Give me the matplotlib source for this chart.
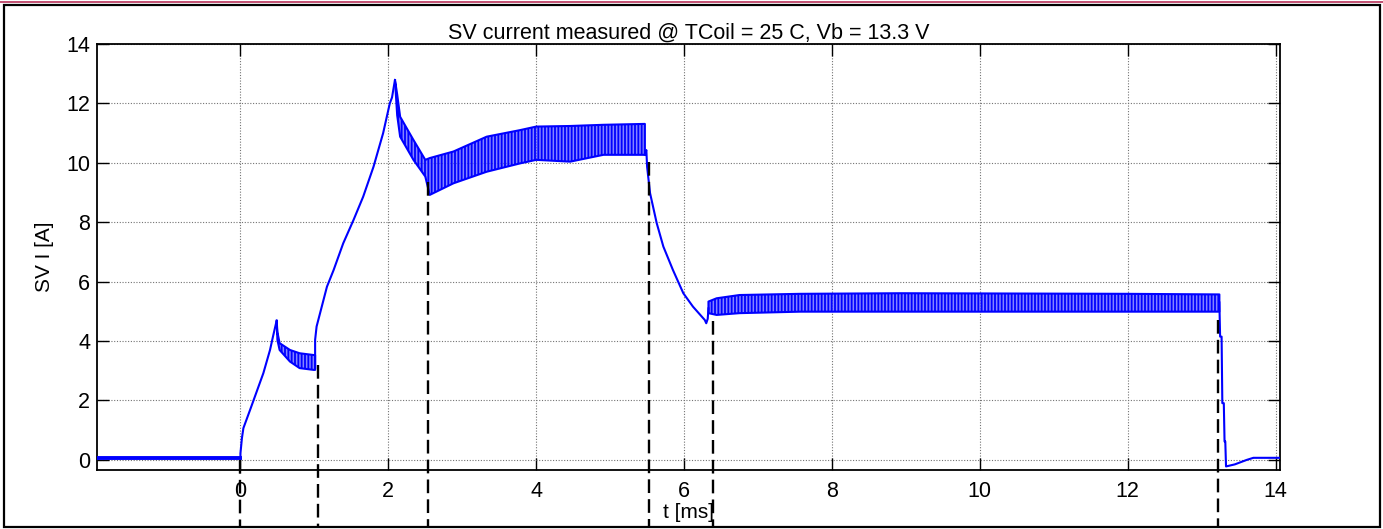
import numpy as np
import matplotlib
matplotlib.use("Agg")
import matplotlib.pyplot as plt
from matplotlib.patches import Rectangle
from matplotlib.lines import Line2D

plt.rcParams["font.family"] = ["Liberation Sans", "DejaVu Sans"]
plt.rcParams["hatch.linewidth"] = 1.3

# --- data (t in ms, current in A) ---
PRE_T = [-1.94, 0.0]
PRE_V = [0.07, 0.07]

RISE1_T = [0.0, 0.0, 0.02, 0.04, 0.13, 0.22, 0.31, 0.40, 0.44, 0.49]
RISE1_V = [0.07, 0.22, 0.73, 1.07, 1.68, 2.30, 2.92, 3.70, 4.15, 4.69]

RIPPLE1_T = [0.49, 0.50, 0.53, 0.67, 0.80, 0.99, 1.01]
RIPPLE1_HI = [4.69, 4.30, 3.93, 3.70, 3.59, 3.53, 3.53]
RIPPLE1_LO = [4.69, 4.04, 3.70, 3.31, 3.09, 3.03, 3.03]

RISE2_T = [1.01, 1.01, 1.03, 1.17, 1.26, 1.39, 1.53, 1.66, 1.80, 1.93, 2.02, 2.05, 2.09]
RISE2_V = [3.10, 4.04, 4.49, 5.83, 6.39, 7.29, 8.08, 8.86, 9.87, 11.0, 12.0, 12.2, 12.79]

RIPPLE2_T = [2.09, 2.12, 2.16, 2.34, 2.50, 2.56, 2.88, 3.33, 3.78, 4.00, 4.46, 4.91, 5.47]
RIPPLE2_HI = [12.79, 12.30, 11.55, 10.77, 10.10, 10.16, 10.38, 10.88, 11.10, 11.22, 11.24, 11.28, 11.31]
RIPPLE2_LO = [12.79, 11.60, 10.88, 10.10, 9.54, 8.92, 9.31, 9.70, 9.98, 10.10, 10.04, 10.27, 10.27]

FALL_T = [5.47, 5.49, 5.50, 5.54, 5.63, 5.72, 5.85, 5.99, 6.12, 6.28, 6.30, 6.32, 6.33]
FALL_V = [10.27, 10.43, 9.87, 8.98, 7.97, 7.18, 6.39, 5.61, 5.16, 4.71, 4.60, 4.75, 5.10]

RIPPLE3_T = [6.33, 6.44, 6.75, 7.57, 8.92, 10.50, 12.00, 13.24]
RIPPLE3_HI = [5.33, 5.44, 5.55, 5.59, 5.61, 5.60, 5.59, 5.57]
RIPPLE3_LO = [4.94, 4.88, 4.94, 4.99, 4.99, 4.99, 4.99, 4.99]

TAIL_T = [13.24, 13.25, 13.27, 13.28, 13.30, 13.31, 13.32, 13.33, 13.45, 13.61, 13.70, 14.06]
TAIL_V = [5.30, 4.15, 4.15, 1.91, 1.91, 0.62, 0.62, -0.22, -0.15, 0.0, 0.07, 0.07]

# phase markers (dashed), t and the current where they start
MARK_T = [0.0, 1.05, 2.54, 5.53, 6.39, 13.22]
MARK_V = [0.0, 3.20, 9.37, 10.04, 4.66, 4.70]

XTICKS = [0, 2, 4, 6, 8, 10, 12, 14]
YTICKS = [0, 2, 4, 6, 8, 10, 12, 14]

BLUE = "#0000ff"

fig = plt.figure(figsize=(13.83, 5.29), dpi=100)
ax = fig.add_axes([97 / 1383, 1 - 470 / 529, (1280 - 97) / 1383, (470 - 44) / 529])

# smooth parts of the trace
for t, v in [(RISE1_T, RISE1_V), (RISE2_T, RISE2_V),
             (FALL_T, FALL_V), (TAIL_T, TAIL_V)]:
    ax.plot(t, v, color=BLUE, lw=1.5, zorder=4)
ax.plot(PRE_T, PRE_V, color=BLUE, lw=2.8, zorder=4)

# chopping (PWM) parts drawn as a hatched band between the envelopes
for t, lo, hi in [(RIPPLE1_T, RIPPLE1_LO, RIPPLE1_HI),
                  (RIPPLE2_T, RIPPLE2_LO, RIPPLE2_HI),
                  (RIPPLE3_T, RIPPLE3_LO, RIPPLE3_HI)]:
    ax.fill_between(t, lo, hi, facecolor="#5050ff", alpha=0.7, lw=0, zorder=3)
    ax.fill_between(t, lo, hi, facecolor="none", edgecolor=BLUE,
                    hatch="|||||", lw=1.5, zorder=4)

# dashed phase markers, running down past the axes to the frame
for t, v in zip(MARK_T, MARK_V):
    ax.plot([t, t], [v, -2.26], color="black", lw=1.7,
            ls=(0, (5.8, 2.6)), clip_on=False, zorder=5)

ax.set_xlim(-1.94, 14.06)
ax.set_ylim(-0.34, 14)
ax.set_xticks(XTICKS)
ax.set_yticks(YTICKS)
ax.grid(True, color="0.45", lw=0.8, ls=(0, (1, 1.5)))
ax.set_axisbelow(True)
ax.tick_params(direction="in", length=8.6, width=1, top=True, right=True,
               labelsize=15.5, colors="black")
ax.tick_params(axis="x", pad=8)
ax.tick_params(axis="y", pad=5)
for s in ax.spines.values():
    s.set_linewidth(1.3)

ax.set_title("SV current measured @ TCoil = 25 C, Vb = 13.3 V", fontsize=15.5, pad=4)
ax.set_xlabel("t [ms]", fontsize=15, labelpad=1)
ax.set_ylabel("SV I [A]", fontsize=15, labelpad=9)

# outer frame of the exported figure
fig.add_artist(Rectangle((4 / 1383, 2 / 529), 1376 / 1383, 522 / 529,
                         transform=fig.transFigure, fill=False,
                         edgecolor="black", lw=1.6))
fig.add_artist(Line2D([0, 1], [1 - 1.5 / 529] * 2, transform=fig.transFigure,
                      color="#b8325a", lw=1.2))

fig.savefig("out.png", dpi=100)
